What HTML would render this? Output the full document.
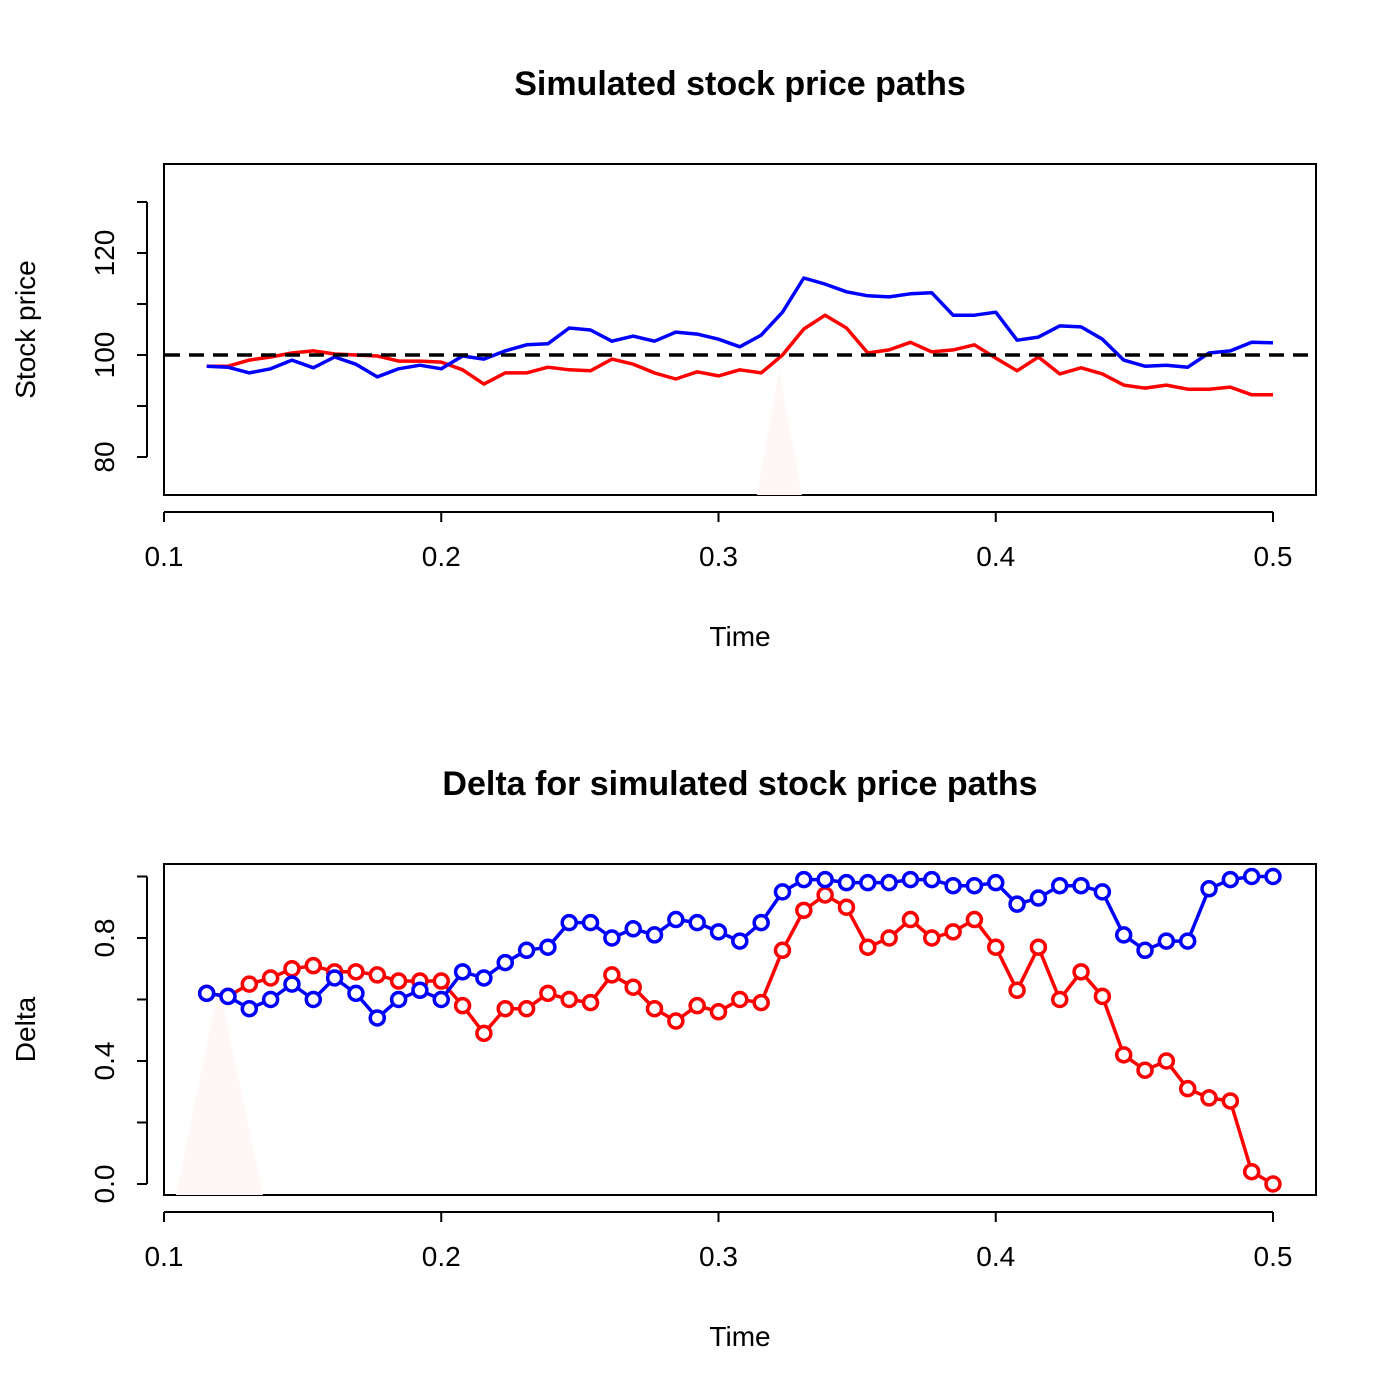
<!DOCTYPE html>
<html><head><meta charset="utf-8"><style>body{margin:0;background:#fff}svg{display:block;font-family:"Liberation Sans",Arial,sans-serif}</style></head>
<body>
<svg id="c" width="1400" height="1400" viewBox="0 0 1400 1400"></svg>
<script>
const xTicks=[0.1,0.2,0.3,0.4,0.5];
const xTickLabels=["0.1","0.2","0.3","0.4","0.5"];
const priceTicks=[80,90,100,110,120,130];
const priceTickLabels=["80","","100","","120",""];
const deltaTicks=[0,0.2,0.4,0.6,0.8,1.0];
const deltaTickLabels=["0.0","","0.4","","0.8",""];
const strike=100;
const priceBlue=[97.8,97.6,96.5,97.3,99,97.5,99.6,98.2,95.7,97.3,98,97.3,99.8,99.2,100.8,102,102.2,105.3,104.9,102.7,103.7,102.7,104.5,104.1,103.1,101.6,103.9,108.4,115.1,113.9,112.4,111.6,111.4,112,112.2,107.8,107.8,108.4,102.9,103.5,105.7,105.5,103.1,99,97.8,98,97.6,100.4,100.8,102.5,102.4];
const priceRed=[97.8,97.8,99,99.6,100.4,100.8,100.2,100,99.8,98.8,98.8,98.6,97.1,94.3,96.5,96.5,97.6,97.1,96.9,99.2,98.2,96.5,95.3,96.7,95.9,97.1,96.5,100,105.1,107.8,105.3,100.4,101,102.5,100.6,101,102,99.4,96.9,99.6,96.3,97.5,96.3,94.1,93.5,94.1,93.3,93.3,93.7,92.2,92.2];
const deltaBlue=[0.62,0.61,0.57,0.60,0.65,0.60,0.67,0.62,0.54,0.60,0.63,0.60,0.69,0.67,0.72,0.76,0.77,0.85,0.85,0.80,0.83,0.81,0.86,0.85,0.82,0.79,0.85,0.95,0.99,0.99,0.98,0.98,0.98,0.99,0.99,0.97,0.97,0.98,0.91,0.93,0.97,0.97,0.95,0.81,0.76,0.79,0.79,0.96,0.99,1.00,1.00];
const deltaRed=[0.62,0.61,0.65,0.67,0.70,0.71,0.69,0.69,0.68,0.66,0.66,0.66,0.58,0.49,0.57,0.57,0.62,0.60,0.59,0.68,0.64,0.57,0.53,0.58,0.56,0.60,0.59,0.76,0.89,0.94,0.90,0.77,0.80,0.86,0.80,0.82,0.86,0.77,0.63,0.77,0.60,0.69,0.61,0.42,0.37,0.40,0.31,0.28,0.27,0.04,0.00];
const times=priceBlue.map((_,i)=>0.5-(priceBlue.length-1-i)/130);

const NS="http://www.w3.org/2000/svg";
const svg=document.getElementById('c');
function mk(tag,attrs,parent){const e=document.createElementNS(NS,tag);for(const k in attrs)e.setAttribute(k,attrs[k]);(parent||svg).appendChild(e);return e;}
const xs=t=>164+(t-0.1)*2772.5;
function panel(cfg){
  const g=mk('g',{});
  
  
  const ys=cfg.ys;
  const box=mk('rect',{x:164,y:cfg.top,width:1152,height:cfg.bottom-cfg.top,fill:'none',stroke:'#000','stroke-width':2},g);
  
  
  const t=mk('text',{x:740,y:cfg.top-69,'text-anchor':'middle','font-size':34,'font-weight':'bold'},g);
  t.textContent=cfg.title;
  
  
  const ax=cfg.bottom+17;
  const xa=mk('g',{},g);
  
  
  mk('line',{x1:xs(xTicks[0]),x2:xs(xTicks[xTicks.length-1]),y1:ax,y2:ax,stroke:'#000','stroke-width':2},xa);
  xTicks.forEach((v,i)=>{
    mk('line',{x1:xs(v),x2:xs(v),y1:ax,y2:ax+10,stroke:'#000','stroke-width':2},xa);
    const l=mk('text',{x:xs(v),y:ax+54,'text-anchor':'middle','font-size':28},xa);
    l.textContent=xTickLabels[i];
    
    
  });
  const xt=mk('text',{x:740,y:cfg.bottom+151,'text-anchor':'middle','font-size':28},g);
  xt.textContent='Time';
  
  
  const ya=mk('g',{},g);
  
  
  mk('line',{x1:147,x2:147,y1:ys(cfg.ticks[0]),y2:ys(cfg.ticks[cfg.ticks.length-1]),stroke:'#000','stroke-width':2},ya);
  cfg.ticks.forEach((v,i)=>{
    mk('line',{x1:137,x2:147,y1:ys(v),y2:ys(v),stroke:'#000','stroke-width':2},ya);
    if(cfg.labels[i]){
      const l=mk('text',{x:0,y:0,'text-anchor':'middle','font-size':28,transform:`translate(114,${ys(v)}) rotate(-90)`},ya);
      l.textContent=cfg.labels[i];
      
      
    }
  });
  const yt=mk('text',{x:0,y:0,'text-anchor':'middle','font-size':28,transform:`translate(35,${(cfg.top+cfg.bottom)/2}) rotate(-90)`},g);
  yt.textContent=cfg.ytitle;
  
  
  return g;
}
function series(g,vals,ys,color,name,markers){
  const pts=vals.map((v,i)=>xs(times[i]).toFixed(1)+','+ys(v).toFixed(1)).join(' ');
  const p=mk('polyline',{points:pts,fill:'none',stroke:color,'stroke-width':3.5,'stroke-linejoin':'round'},g);
  
  
  if(markers) vals.forEach((v,i)=>{
    const c=mk('circle',{cx:xs(times[i]),cy:ys(v),r:7,fill:'#fff',stroke:color,'stroke-width':3.5},g);
    
    
  });
}
const ysP=v=>355-(v-100)*5.1;
const g1=panel({name:'stock-price-panel',top:164,bottom:495,ys:ysP,ticks:priceTicks,labels:priceTickLabels,title:'Simulated stock price paths',ytitle:'Stock price'});
mk('polygon',{points:'757,495 779,370 802,495',fill:'#fff6f6'},g1);
series(g1,priceRed,ysP,'#ff0000','price-red',false);
series(g1,priceBlue,ysP,'#0000ff','price-blue',false);
const sl=mk('line',{x1:165,x2:1315,y1:ysP(strike),y2:ysP(strike),stroke:'#000','stroke-width':3.5,'stroke-dasharray':'15,9'},g1);


const ysD=v=>1184-v*307.5;
const g2=panel({name:'delta-panel',top:864,bottom:1195,ys:ysD,ticks:deltaTicks,labels:deltaTickLabels,title:'Delta for simulated stock price paths',ytitle:'Delta'});
mk('polygon',{points:'176,1195 219,985 263,1195',fill:'#fff6f6'},g2);
series(g2,deltaRed,ysD,'#ff0000','delta-red',true);
series(g2,deltaBlue,ysD,'#0000ff','delta-blue',true);
</script>
</body></html>
